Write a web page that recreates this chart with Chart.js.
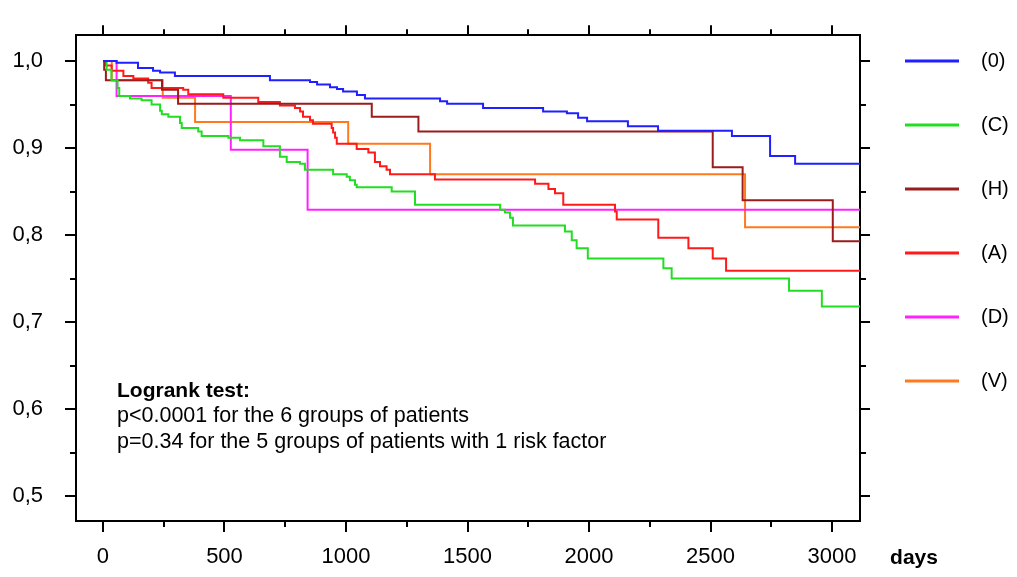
<!DOCTYPE html>
<html lang="en">
<head>
<meta charset="UTF-8">
<title>Survival by risk factor group</title>
<script src="https://cdn.jsdelivr.net/npm/chart.js"></script>
<style>
    body { margin: 0; background: #fff; }
    canvas { display: block; }
</style>
</head>
<body>
<canvas id="km" width="1017" height="577"></canvas>
<script>
// groups and colours
const groups = ['(0)', '(C)', '(H)', '(A)', '(D)', '(V)'];
const colors = ['#1f1fff', '#22dd22', '#9b1c1c', '#ff1a1a', '#ff22ff', '#ff7a1f'];

// axis ticks
const xTicks = [0, 500, 1000, 1500, 2000, 2500, 3000];
const yTicks = [0.5, 0.6, 0.7, 0.8, 0.9, 1.0];

// step points: day of the drop, survival after it
const days0 = [0, 56, 144, 206, 235, 296, 687, 852, 881, 934, 963, 988, 1045, 1078, 1387, 1416, 1564, 1811, 1909, 1955, 1992, 2160, 2284, 2588, 2745, 2848, 3115];
const surv0 = [1.0, 0.998, 0.992, 0.989, 0.987, 0.983, 0.978, 0.976, 0.973, 0.970, 0.968, 0.965, 0.961, 0.957, 0.954, 0.951, 0.946, 0.942, 0.940, 0.935, 0.931, 0.925, 0.920, 0.914, 0.891, 0.882, 0.882];

const daysC = [0, 15, 35, 60, 67, 111, 159, 200, 235, 242, 269, 317, 324, 392, 406, 516, 564, 660, 728, 756, 811, 831, 947, 1003, 1016, 1037, 1044, 1188, 1284, 1634, 1654, 1675, 1687, 1901, 1929, 1949, 1995, 2306, 2340, 2823, 2958, 3115];
const survC = [1.0, 0.99, 0.978, 0.969, 0.960, 0.957, 0.955, 0.950, 0.943, 0.939, 0.936, 0.929, 0.923, 0.919, 0.914, 0.912, 0.909, 0.902, 0.890, 0.884, 0.882, 0.875, 0.870, 0.867, 0.863, 0.858, 0.855, 0.850, 0.835, 0.829, 0.826, 0.820, 0.811, 0.804, 0.794, 0.785, 0.773, 0.762, 0.750, 0.736, 0.718, 0.718];

const daysH = [0, 5, 12, 243, 309, 1106, 1298, 2509, 2632, 3003, 3115];
const survH = [1.0, 0.99, 0.978, 0.967, 0.951, 0.936, 0.919, 0.878, 0.840, 0.793, 0.793];

const daysA = [0, 10, 36, 84, 125, 186, 200, 330, 351, 495, 639, 728, 790, 811, 823, 852, 864, 941, 947, 955, 962, 1044, 1092, 1119, 1140, 1167, 1181, 1366, 1778, 1833, 1860, 1894, 2107, 2114, 2285, 2409, 2509, 2564, 3115];
const survA = [1.0, 0.995, 0.989, 0.983, 0.980, 0.975, 0.969, 0.967, 0.962, 0.958, 0.953, 0.949, 0.946, 0.942, 0.936, 0.932, 0.928, 0.923, 0.918, 0.912, 0.905, 0.899, 0.895, 0.884, 0.879, 0.875, 0.870, 0.864, 0.859, 0.853, 0.848, 0.835, 0.827, 0.818, 0.797, 0.785, 0.773, 0.759, 0.759];

const daysD = [0, 56, 526, 842, 3115];
const survD = [1.0, 0.960, 0.898, 0.829, 0.829];

const daysV = [0, 36, 246, 379, 1009, 1346, 2642, 3115];
const survV = [1.0, 0.978, 0.958, 0.930, 0.905, 0.870, 0.809, 0.809];

const allDays = [days0, daysC, daysH, daysA, daysD, daysV];
const allSurv = [surv0, survC, survH, survA, survD, survV];

// texts
const xTitle = 'days';
const noteTitle = 'Logrank test:';
const noteLines = ['p<0.0001 for the 6 groups of patients', 'p=0.34 for the 5 groups of patients with 1 risk factor'];

const FONT = "'Liberation Sans', Arial, sans-serif";
const MINOR = 6;

// short ticks between the labelled ones, on all four sides
const minorTicks = {
    id: 'minorTicks',
    afterDraw(chart) {
        const ctx = chart.ctx, a = chart.chartArea;
        ctx.save();
        ctx.strokeStyle = '#000';
        ctx.lineWidth = 2;
        ['x', 'x2', 'y', 'y2'].forEach(id => {
            const s = chart.scales[id];
            const t = s.ticks;
            for (let i = 0; i < t.length - 1; i++) {
                const p = Math.round(s.getPixelForValue((t[i].value + t[i + 1].value) / 2));
                ctx.beginPath();
                if (s.position === 'bottom') { ctx.moveTo(p, a.bottom); ctx.lineTo(p, a.bottom + MINOR); }
                if (s.position === 'top') { ctx.moveTo(p, a.top); ctx.lineTo(p, a.top - MINOR); }
                if (s.position === 'left') { ctx.moveTo(a.left, p); ctx.lineTo(a.left - MINOR, p); }
                if (s.position === 'right') { ctx.moveTo(a.right, p); ctx.lineTo(a.right + MINOR, p); }
                ctx.stroke();
            }
        });
        ctx.restore();
    }
};

// legend on the right plus the text block inside the plot
const sideText = {
    id: 'sideText',
    afterDraw(chart) {
        const ctx = chart.ctx;
        ctx.save();
        chart.data.datasets.forEach((ds, i) => {
            const y = 61 + i * 64;
            ctx.strokeStyle = ds.borderColor;
            ctx.lineWidth = 3;
            ctx.beginPath();
            ctx.moveTo(905, y);
            ctx.lineTo(959, y);
            ctx.stroke();
            ctx.fillStyle = '#000';
            ctx.font = '20px ' + FONT;
            ctx.textAlign = 'left';
            ctx.textBaseline = 'middle';
            ctx.fillText(ds.label, 981, y);
        });
        ctx.fillStyle = '#000';
        ctx.textBaseline = 'middle';
        ctx.font = 'bold 21px ' + FONT;
        ctx.textAlign = 'center';
        ctx.fillText(xTitle, 914, 558);
        ctx.textAlign = 'left';
        ctx.fillText(noteTitle, 117, 391);
        ctx.font = '21.5px ' + FONT;
        noteLines.forEach((s, i) => ctx.fillText(s, 117, 416 + i * 26));
        ctx.restore();
    }
};

const grid = (len) => ({ drawOnChartArea: false, color: '#000', lineWidth: 2, tickLength: len });
const border = { display: true, color: '#000', width: 2 };
const setX = s => { s.ticks = xTicks.map(v => ({ value: v })); };
const setY = s => { s.ticks = yTicks.map(v => ({ value: v })); };

new Chart(document.getElementById('km'), {
    type: 'line',
    data: {
        datasets: groups.map((g, i) => ({
            label: g,
            data: allDays[i].map((d, k) => ({ x: d, y: allSurv[i][k] })),
            borderColor: colors[i],
            borderWidth: 2,
            stepped: true,
            pointRadius: 0,
            fill: false
        }))
    },
    options: {
        responsive: false,
        animation: false,
        layout: { padding: 0 },
        plugins: { legend: { display: false }, tooltip: { enabled: false } },
        scales: {
            x: {
                type: 'linear', position: 'bottom', min: -111, max: 3115,
                grid: grid(11), border: border, afterBuildTicks: setX,
                ticks: { color: '#000', padding: 12, maxRotation: 0, autoSkip: false,
                         font: { family: "'Liberation Sans Narrow', " + FONT, size: 22 },
                         callback: v => String(v) },
                afterFit(s) { s.height = 56; }
            },
            x2: {
                type: 'linear', position: 'top', min: -111, max: 3115,
                grid: grid(10), border: border, afterBuildTicks: setX,
                ticks: { display: false },
                afterFit(s) { s.height = 15; }
            },
            y: {
                type: 'linear', position: 'left', min: 0.4713, max: 1.0298,
                grid: grid(11), border: border, afterBuildTicks: setY,
                ticks: { color: '#000', padding: 22, autoSkip: false,
                         font: { family: FONT, size: 22 },
                         callback: v => v.toFixed(1).replace('.', ',') },
                afterFit(s) { s.width = 76; }
            },
            y2: {
                type: 'linear', position: 'right', min: 0.4713, max: 1.0298,
                grid: grid(10), border: border, afterBuildTicks: setY,
                ticks: { display: false },
                afterFit(s) { s.width = 157; }
            }
        }
    },
    plugins: [minorTicks, sideText]
});
</script>
</body>
</html>
